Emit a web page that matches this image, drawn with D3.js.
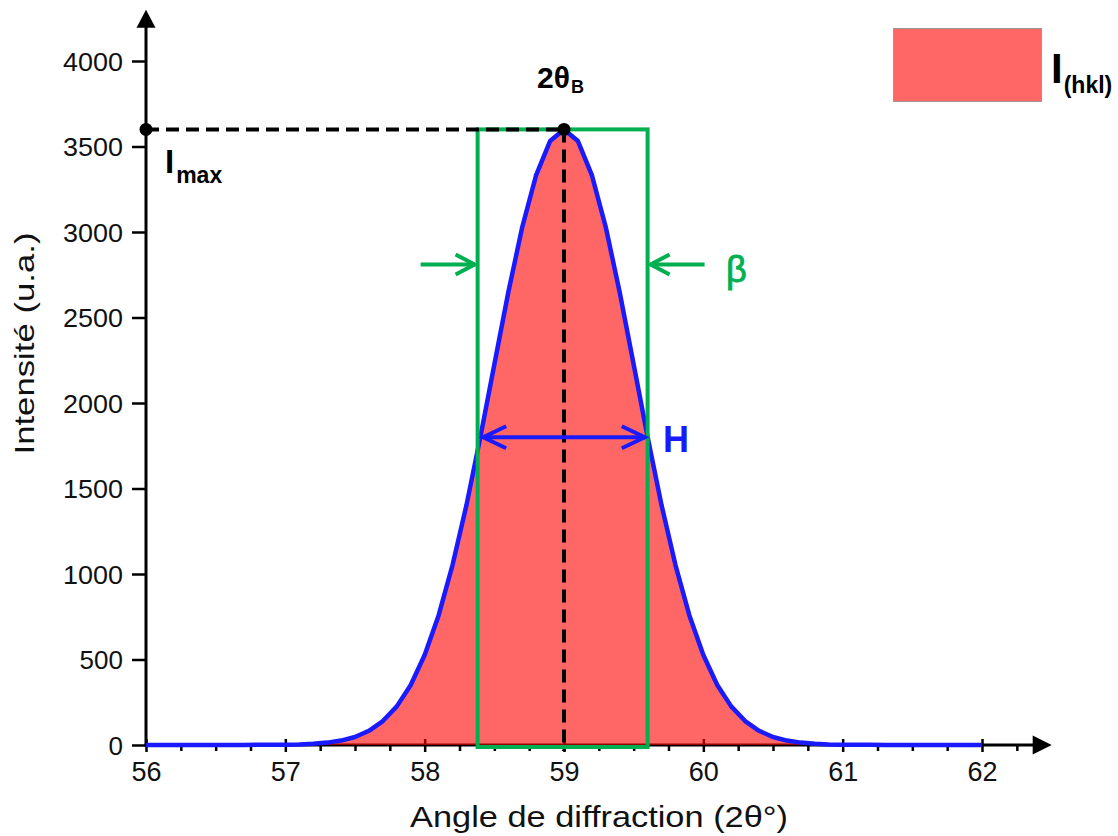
<!DOCTYPE html>
<html><head><meta charset="utf-8">
<script src="https://cdn.jsdelivr.net/npm/d3@7"></script>
<style>html,body{margin:0;padding:0;background:#fff;}svg{display:block;}</style>
</head><body>
<script>
// ---- data ----
const angles = [56.0,56.1,56.2,56.3,56.4,56.5,56.6,56.7,56.8,56.9,
  57.0,57.1,57.2,57.3,57.4,57.5,57.6,57.7,57.8,57.9,
  58.0,58.1,58.2,58.3,58.4,58.5,58.6,58.7,58.8,58.9,
  59.0,59.1,59.2,59.3,59.4,59.5,59.6,59.7,59.8,59.9,
  60.0,60.1,60.2,60.3,60.4,60.5,60.6,60.7,60.8,60.9,
  61.0,61.1,61.2,61.3,61.4,61.5,61.6,61.7,61.8,61.9,62.0];
const intensity = [0,0,0,0,0,0,0,0,1,1,
  2,3,7,14,26,47,83,140,226,351,
  526,758,1052,1403,1802,2225,2646,3028,3333,3532,
  3600,3532,3333,3028,2646,2225,1802,1403,1052,758,
  526,351,226,140,83,47,26,14,7,3,
  2,1,1,0,0,0,0,0,0,0,0];
const xTicks = [56,57,58,59,60,61,62];
const xMinorTicks = [56.25,56.5,56.75,57.25,57.5,57.75,58.25,58.5,58.75,59.25,59.5,59.75,60.25,60.5,60.75,61.25,61.5,61.75,62.25];
const yTicks = [0,500,1000,1500,2000,2500,3000,3500,4000];
const peakAngle = [59.0];
const peakIntensity = [3600];
const halfMax = [1800];
const fwhmBounds = [58.42, 59.58];
const betaBounds = [58.38, 59.6];
const labels = { x: "Angle de diffraction (2θ°)", y: "Intensité (u.a.)" };

// ---- chart ----
const W = 1118, H = 836;
const x = d3.scaleLinear().domain([56, 62]).range([146, 982]);
const y = d3.scaleLinear().domain([0, 4000]).range([745, 61]);
const green = "#00b050", blue = "#1a1aff";
const FONT = "'Liberation Sans', Arial, sans-serif";
const svg = d3.select("body").append("svg").attr("width", W).attr("height", H)
  .style("font-family", FONT);

// axes
const gx = svg.append("g").attr("transform", `translate(0,${y(0)})`);
gx.call(d3.axisBottom(x).tickValues(xTicks).tickSize(7).tickPadding(10).tickFormat(d3.format("d")));
gx.append("g").call(d3.axisBottom(x).tickValues(xTicks).tickSize(-6).tickFormat(""));
gx.append("g").call(d3.axisBottom(x).tickValues(xMinorTicks).tickSize(6).tickFormat(""));
gx.selectAll(".domain").remove();
gx.selectAll("line").attr("stroke", "#000").attr("stroke-width", 2.5);
gx.selectAll("text").attr("font-size", 27).attr("fill", "#111").style("font-family", FONT);

const gy = svg.append("g").attr("transform", `translate(${x(56)},0)`);
gy.call(d3.axisLeft(y).tickValues(yTicks).tickSize(14).tickPadding(9).tickFormat(d3.format("d")));
gy.selectAll(".domain").remove();
gy.selectAll("line").attr("stroke", "#000").attr("stroke-width", 2.5);
gy.selectAll("text").attr("font-size", 26).attr("fill", "#111").attr("dy", "0.36em")
  .attr("textLength", 60).attr("lengthAdjust", "spacingAndGlyphs").style("font-family", FONT);
gy.selectAll(".tick text").filter(d => d < 1000).attr("textLength", null);

const xEnd = x(62.5), yEnd = y(4300);
svg.append("line").attr("x1", x(56) - 1.5).attr("x2", xEnd - 15).attr("y1", y(0)).attr("y2", y(0))
  .attr("stroke", "#000").attr("stroke-width", 3);
svg.append("line").attr("x1", x(56)).attr("x2", x(56)).attr("y1", y(0) + 1.5).attr("y2", yEnd + 15)
  .attr("stroke", "#000").attr("stroke-width", 3);
svg.append("path").attr("d", `M${xEnd},${y(0)} L${xEnd - 19},${y(0) - 9.5} L${xEnd - 19},${y(0) + 9.5} Z`).attr("fill", "#000");
svg.append("path").attr("d", `M${x(56)},${yEnd} L${x(56) - 9.5},${yEnd + 18} L${x(56) + 9.5},${yEnd + 18} Z`).attr("fill", "#000");

// area + curve
const pts = angles.map((a, i) => [a, intensity[i]]);
svg.append("path").datum(pts)
  .attr("d", d3.area().x(d => x(d[0])).y0(y(0)).y1(d => y(d[1])))
  .attr("fill", "#ff0000").attr("fill-opacity", 0.6);
svg.append("path").datum(pts)
  .attr("d", d3.line().x(d => x(d[0])).y(d => y(d[1])))
  .attr("fill", "none").attr("stroke", blue).attr("stroke-width", 4.5).attr("stroke-linejoin", "round");

// integral breadth rectangle
svg.append("rect").attr("x", x(betaBounds[0])).attr("y", y(peakIntensity[0]))
  .attr("width", x(betaBounds[1]) - x(betaBounds[0])).attr("height", y(0) - y(peakIntensity[0]) + 2)
  .attr("fill", "none").attr("stroke", green).attr("stroke-width", 4);

// dashed guides
svg.append("line").attr("x1", x(56)).attr("x2", x(peakAngle[0])).attr("y1", y(peakIntensity[0])).attr("y2", y(peakIntensity[0]))
  .attr("stroke", "#000").attr("stroke-width", 4).attr("stroke-dasharray", "13,7");
svg.append("line").attr("x1", x(peakAngle[0])).attr("x2", x(peakAngle[0])).attr("y1", y(peakIntensity[0])).attr("y2", y(0) + 6)
  .attr("stroke", "#000").attr("stroke-width", 4).attr("stroke-dasharray", "13,7");
svg.selectAll("circle.pk").data([[56, peakIntensity[0]], [peakAngle[0], peakIntensity[0]]]).join("circle")
  .attr("cx", d => x(d[0])).attr("cy", d => y(d[1])).attr("r", 6.5).attr("fill", "#000");

// arrows
function openArrow(tipX, tipY, dir, len, color, wingLen, wingHalf, sw) {
  const g = svg.append("g").attr("stroke", color).attr("stroke-width", sw).attr("fill", "none")
    .attr("stroke-linecap", "butt").attr("stroke-linejoin", "miter");
  g.append("line").attr("x1", tipX - dir * len).attr("x2", tipX).attr("y1", tipY).attr("y2", tipY);
  g.append("path").attr("d", `M${tipX - dir * wingLen},${tipY - wingHalf} L${tipX},${tipY} L${tipX - dir * wingLen},${tipY + wingHalf}`);
}
const ya = y(2810);
openArrow(x(betaBounds[0]) - 3, ya, 1, 54, green, 19, 10, 4);
openArrow(x(betaBounds[1]) + 3, ya, -1, 54, green, 19, 10, 4);

const yh = y(halfMax[0]);
openArrow(x(fwhmBounds[0]), yh, -1, x(fwhmBounds[1]) - x(fwhmBounds[0]), blue, 23, 11, 4);
openArrow(x(fwhmBounds[1]), yh, 1, 1, blue, 23, 11, 4);

// annotations
const t1 = svg.append("text").attr("x", 165).attr("y", 173).attr("font-weight", "bold").attr("fill", "#000");
t1.append("tspan").attr("font-size", 33).text("I");
t1.append("tspan").attr("font-size", 23).attr("dy", 10).attr("dx", 2).text("max");

const t2 = svg.append("text").attr("x", 537).attr("y", 88).attr("font-weight", "bold").attr("fill", "#000");
t2.append("tspan").attr("font-size", 30).text("2θ");
t2.append("tspan").attr("font-size", 18).attr("dy", 5).attr("dx", 1).text("B");

svg.append("text").attr("x", 726).attr("y", 282).attr("font-size", 36).attr("fill", green)
  .attr("stroke", green).attr("stroke-width", 0.9).text("β");
svg.append("text").attr("x", 663).attr("y", 452).attr("font-size", 36).attr("font-weight", "bold").attr("fill", blue).text("H");

// legend
svg.append("rect").attr("x", 893.5).attr("y", 28.5).attr("width", 148).attr("height", 73)
  .attr("fill", "#ff6666").attr("stroke", "#999").attr("stroke-width", 1);
const t3 = svg.append("text").attr("x", 1051).attr("y", 83).attr("font-weight", "bold").attr("fill", "#000");
t3.append("tspan").attr("font-size", 42).text("I");
t3.append("tspan").attr("font-size", 23).attr("dy", 10).attr("dx", 1).text("(hkl)");

// axis titles
svg.append("text").attr("x", 599).attr("y", 827).attr("text-anchor", "middle")
  .attr("font-size", 30).attr("fill", "#111").attr("textLength", 378).attr("lengthAdjust", "spacingAndGlyphs")
  .text(labels.x);
svg.append("text").attr("transform", "translate(34,343.5) rotate(-90)").attr("text-anchor", "middle")
  .attr("font-size", 28).attr("fill", "#111").attr("textLength", 222).attr("lengthAdjust", "spacingAndGlyphs")
  .text(labels.y);
</script>
</body></html>
